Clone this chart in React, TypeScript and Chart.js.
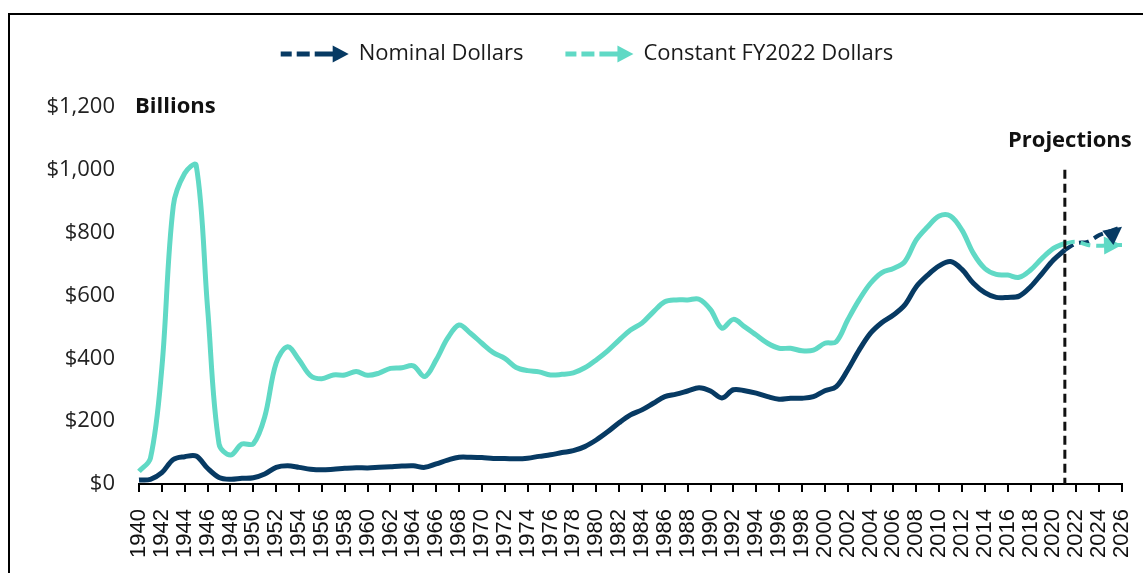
import { useEffect, useRef } from "react";
import { Chart, registerables } from "chart.js";

Chart.register(...registerables);

// ---------- DATA ----------
const years = [
  "1940", "1941", "1942", "1943", "1944", "1945", "1946", "1947", "1948", "1949",
  "1950", "1951", "1952", "1953", "1954", "1955", "1956", "1957", "1958", "1959",
  "1960", "1961", "1962", "1963", "1964", "1965", "1966", "1967", "1968", "1969",
  "1970", "1971", "1972", "1973", "1974", "1975", "1976", "1977", "1978", "1979",
  "1980", "1981", "1982", "1983", "1984", "1985", "1986", "1987", "1988", "1989",
  "1990", "1991", "1992", "1993", "1994", "1995", "1996", "1997", "1998", "1999",
  "2000", "2001", "2002", "2003", "2004", "2005", "2006", "2007", "2008", "2009",
  "2010", "2011", "2012", "2013", "2014", "2015", "2016", "2017", "2018", "2019",
  "2020", "2021", "2022", "2023", "2024", "2025", "2026",
];

// Billions of dollars, 1940–2021 (actuals)
const nominalDollars = [
  13, 15, 36, 78, 87, 89, 50, 21, 15, 18,
  20, 32, 53, 58, 53, 47, 45, 47, 50, 52,
  51, 53, 55, 57, 58, 53, 64, 76, 85, 85,
  84, 81, 81, 80, 82, 88, 93, 100, 106, 119,
  140, 166, 195, 220, 236, 257, 278, 286, 296, 306,
  296, 274, 300, 297, 289, 278, 270, 273, 273, 278,
  297, 310, 363, 426, 480, 514, 538, 570, 628, 665,
  694, 708, 683, 639, 609, 594, 594, 598, 628, 670,
  713, 745,
];

const constantDollars = [
  40, 82, 370, 885, 989, 1015, 560, 128, 92, 127,
  128, 214, 385, 437, 395, 345, 335, 347, 347, 358,
  346, 353, 368, 370, 376, 342, 395, 464, 506, 480,
  448, 418, 400, 371, 361, 357, 347, 349, 354, 370,
  395, 424, 458, 490, 512, 548, 580, 586, 586, 588,
  555, 496, 524, 500, 474, 448, 432, 432, 424, 426,
  448, 453, 522, 586, 639, 673, 686, 708, 777, 819,
  853, 853, 808, 734, 686, 667, 665, 658, 681, 718,
  750, 766,
];

// Projections, 2021–2026
const projectionStartYear = "2021";
const nominalProjection = [745, 766, 771, 792, 805, 819];
const constantProjection = [766, 771, 761, 758, 760, 761];

const yTicks = [0, 200, 400, 600, 800, 1000, 1200];
const seriesNames = ["Nominal Dollars", "Constant FY2022 Dollars"];
const unitLabel = "Billions";
const projectionLabel = "Projections";
const projectionLineTopValue = 1000;

const NAVY = "#073a63";
const TEAL = "#60d9c5";
const FONT = '"Open Sans", "DejaVu Sans", sans-serif';

// ---------- PLUGINS ----------
const framePlugin = {
  id: "frame",
  beforeDraw(chart: any) {
    const ctx = chart.ctx;
    ctx.save();
    ctx.fillStyle = "#fff";
    ctx.fillRect(0, 0, chart.width, chart.height);
    ctx.strokeStyle = "#000";
    ctx.lineWidth = 2;
    ctx.beginPath();
    ctx.moveTo(9, chart.height);
    ctx.lineTo(9, 14);
    ctx.lineTo(chart.width, 14);
    ctx.stroke();
    ctx.restore();
  },
};

function drawArrowIcon(ctx: CanvasRenderingContext2D, x: number, y: number, color: string) {
  ctx.save();
  ctx.strokeStyle = color;
  ctx.fillStyle = color;
  ctx.lineWidth = 5;
  ctx.lineCap = "butt";
  ctx.beginPath();
  ctx.moveTo(x, y);
  ctx.lineTo(x + 11, y);
  ctx.moveTo(x + 16, y);
  ctx.lineTo(x + 29, y);
  ctx.moveTo(x + 34, y);
  ctx.lineTo(x + 54, y);
  ctx.stroke();
  ctx.beginPath();
  ctx.moveTo(x + 68, y);
  ctx.lineTo(x + 52, y - 8.5);
  ctx.lineTo(x + 52, y + 8.5);
  ctx.closePath();
  ctx.fill();
  ctx.restore();
}

const legendPlugin = {
  id: "customLegend",
  afterDraw(chart: any) {
    const ctx = chart.ctx;
    ctx.save();
    ctx.font = `22px ${FONT}`;
    ctx.textBaseline = "middle";
    ctx.fillStyle = "#1a1a1a";
    const iconW = 68;
    const gap = 10;
    const itemGap = 42;
    const colors = [NAVY, TEAL];
    const widths = seriesNames.map((n) => iconW + gap + ctx.measureText(n).width);
    const total = widths.reduce((a, b) => a + b, 0) + itemGap * (seriesNames.length - 1);
    let x = 587 - total / 2;
    const y = 54;
    seriesNames.forEach((n, i) => {
      drawArrowIcon(ctx, x, y, colors[i]);
      ctx.fillText(n, x + iconW + gap, y);
      x += widths[i] + itemGap;
    });
    ctx.restore();
  },
};

const annotationPlugin = {
  id: "annotations",
  afterDatasetsDraw(chart: any) {
    const ctx = chart.ctx;
    const xs = chart.scales.x;
    const ys = chart.scales.y;
    const area = chart.chartArea;
    ctx.save();
    // arrow heads
    chart.data.datasets.forEach((ds: any, i: number) => {
      if (!ds.arrowHead) return;
      const meta = chart.getDatasetMeta(i);
      const pts = meta.data.filter((_: any, idx: number) => ds.data[idx] != null);
      const last = pts[pts.length - 1];
      const prev = pts[pts.length - 2];
      const ang = Math.atan2(last.y - prev.y, last.x - prev.x) + (ds.arrowTilt || 0);
      const len = 18;
      const half = 9;
      ctx.fillStyle = ds.borderColor;
      ctx.beginPath();
      ctx.moveTo(last.x, last.y);
      ctx.lineTo(
        last.x - len * Math.cos(ang) + half * Math.sin(ang),
        last.y - len * Math.sin(ang) - half * Math.cos(ang)
      );
      ctx.lineTo(
        last.x - len * Math.cos(ang) - half * Math.sin(ang),
        last.y - len * Math.sin(ang) + half * Math.cos(ang)
      );
      ctx.closePath();
      ctx.fill();
    });
    // projection divider
    const px = xs.getPixelForValue(years.indexOf(projectionStartYear));
    const top = ys.getPixelForValue(projectionLineTopValue);
    ctx.strokeStyle = "#111";
    ctx.lineWidth = 3;
    ctx.setLineDash([9, 5]);
    ctx.beginPath();
    ctx.moveTo(px, top);
    ctx.lineTo(px, area.bottom);
    ctx.stroke();
    ctx.setLineDash([]);
    ctx.fillStyle = "#111";
    ctx.font = `bold 22px ${FONT}`;
    ctx.textAlign = "center";
    ctx.textBaseline = "middle";
    ctx.fillText(projectionLabel, px + 5, top - 29);
    // unit label
    ctx.textAlign = "left";
    ctx.fillText(unitLabel, area.left - 4, ys.getPixelForValue(yTicks[yTicks.length - 1]));
    ctx.restore();
  },
};

// ---------- COMPONENT ----------
export default function App() {
  const canvasRef = useRef<HTMLCanvasElement | null>(null);

  useEffect(() => {
    const canvas = canvasRef.current;
    if (!canvas) return;
    const startIdx = years.indexOf(projectionStartYear);
    const pad = (arr: number[]) => (Array(startIdx).fill(null) as (number | null)[]).concat(arr);

    const chart = new Chart(canvas, {
      type: "line",
      data: {
        labels: years,
        datasets: [
          {
            label: seriesNames[1],
            data: constantDollars,
            borderColor: TEAL,
            borderWidth: 5,
            pointRadius: 0,
            tension: 0.35,
            fill: false,
          },
          {
            label: seriesNames[0],
            data: nominalDollars,
            borderColor: NAVY,
            borderWidth: 5,
            pointRadius: 0,
            tension: 0.35,
            fill: false,
          },
          {
            label: seriesNames[1] + " (projection)",
            data: pad(constantProjection),
            borderColor: TEAL,
            borderWidth: 4,
            borderDash: [10, 6],
            pointRadius: 0,
            tension: 0.35,
            fill: false,
            arrowHead: true,
          } as any,
          {
            label: seriesNames[0] + " (projection)",
            data: pad(nominalProjection),
            borderColor: NAVY,
            borderWidth: 4,
            borderDash: [10, 6],
            pointRadius: 0,
            tension: 0.35,
            fill: false,
            arrowHead: true,
            arrowTilt: -0.3,
          } as any,
        ],
      },
      options: {
        animation: false,
        responsive: false,
        layout: { padding: { top: 107, right: 21, left: 0, bottom: 0 } },
        plugins: {
          legend: { display: false },
          tooltip: { enabled: false },
        },
        scales: {
          x: {
            type: "category",
            offset: false,
            afterFit: (s: any) => {
              s.height = 89;
              s.paddingLeft = 0;
              s.paddingRight = 0;
            },
            grid: {
              display: true,
              drawOnChartArea: false,
              drawTicks: true,
              tickLength: 8,
              lineWidth: 2,
              color: (c: any) => (c.index % 2 === 0 ? "#000" : "rgba(0,0,0,0)"),
            },
            border: { display: true, color: "#000", width: 2 },
            ticks: {
              autoSkip: false,
              maxRotation: 90,
              minRotation: 90,
              padding: 17,
              color: "#111",
              font: { family: '"Liberation Sans", Arial, sans-serif', size: 22 },
              callback: (_v: any, i: number) => (i % 2 === 0 ? years[i] : ""),
            },
          },
          y: {
            min: 0,
            max: 1200,
            afterFit: (s: any) => {
              s.width = 139;
            },
            afterBuildTicks: (s: any) => {
              s.ticks = yTicks.map((v) => ({ value: v }));
            },
            grid: { display: false, drawTicks: false },
            border: { display: false },
            ticks: {
              padding: 24,
              color: "#222",
              font: { family: FONT, size: 22 },
              callback: (v: any) => "$" + Number(v).toLocaleString("en-US"),
            },
          },
        },
      },
      plugins: [framePlugin, legendPlugin, annotationPlugin],
    });
    return () => chart.destroy();
  }, []);

  return (
    <div style={{ position: "fixed", left: 0, top: 0, width: 1143, height: 573, background: "#fff" }}>
      <canvas ref={canvasRef} width={1143} height={573} style={{ display: "block" }} />
    </div>
  );
}
